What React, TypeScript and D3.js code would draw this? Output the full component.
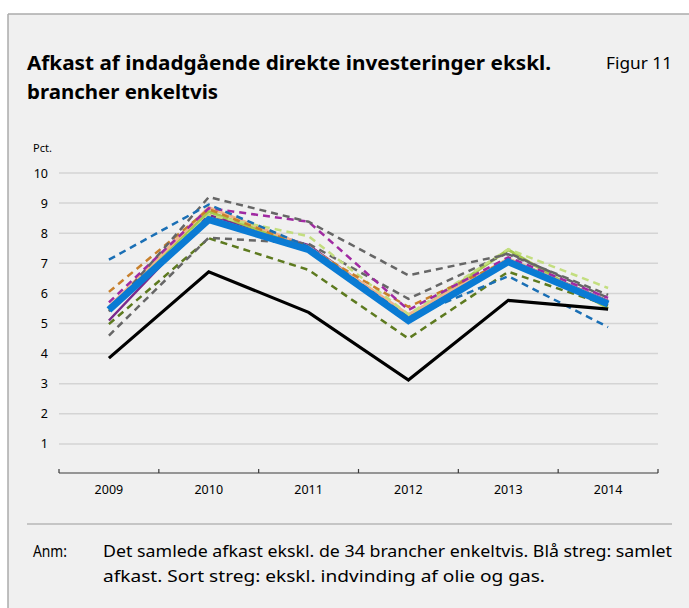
import React from "react";
import * as d3 from "d3";

const years = ["2009", "2010", "2011", "2012", "2013", "2014"];
const yTicks = [1, 2, 3, 4, 5, 6, 7, 8, 9, 10];

// Branch series (excluding one branch at a time)
const purpleSolid = [5.1, 8.6, 7.6, 5.25, 7.15, 5.75];
const greenSolid = [5.45, 8.72, 7.5, 5.2, 7.45, 5.5];
const peachSolid = [5.55, 8.85, 7.55, 5.3, 7.15, 5.72];
const oliveDash = [4.98, 7.83, 6.78, 4.5, 6.72, 5.6];
const grayDashB = [4.6, 7.85, 7.65, 5.82, 7.35, 5.85];
const lightGreenDash = [5.5, 8.6, 7.9, 5.3, 7.47, 6.18];
const orangeDash = [6.05, 8.8, 7.5, 5.55, 7.1, 5.7];
const purpleDash = [5.7, 8.83, 8.38, 5.45, 7.2, 5.85];
const grayDashA = [5.4, 9.2, 8.38, 6.6, 7.3, 5.95];
const blueDash = [7.12, 8.95, 7.55, 5.2, 6.57, 4.88];
// Total return (blue) and excl. oil and gas extraction (black)
const samlet = [5.45, 8.45, 7.45, 5.1, 7.05, 5.65];
const eksklOlie = [3.85, 6.72, 5.37, 3.12, 5.77, 5.48];

const series = [
  { values: purpleSolid, color: "#7b2a8c", width: 2.5, dash: null },
  { values: greenSolid, color: "#a6c94c", width: 3, dash: null },
  { values: peachSolid, color: "#f0b48c", width: 3, dash: null },
  { values: oliveDash, color: "#5d7a1f", width: 2.5, dash: "7,5" },
  { values: grayDashB, color: "#666666", width: 2.5, dash: "7,5" },
  { values: lightGreenDash, color: "#c3de7f", width: 2.5, dash: "7,5" },
  { values: orangeDash, color: "#c8802c", width: 2.5, dash: "7,5" },
  { values: purpleDash, color: "#a02aa2", width: 2.5, dash: "7,5" },
  { values: grayDashA, color: "#666666", width: 2.5, dash: "7,5" },
  { values: blueDash, color: "#1a6fb5", width: 2.5, dash: "7,5" },
  { values: samlet, color: "#0a7bd4", width: 7, dash: null },
  { values: eksklOlie, color: "#000000", width: 3.2, dash: null },
];

const W = 689;
const H = 608;
const FONT = "'Noto Sans', 'Open Sans', sans-serif";

export default function App() {
  const x = d3.scaleBand<string>().domain(years).range([59, 658]);
  const y = d3.scaleLinear().domain([0, 10]).range([474, 173]);
  const line = d3
    .line<number>()
    .x((_, i) => (x(years[i]) as number) + x.bandwidth() / 2)
    .y((d) => y(d));
  const boundaries = [...years.map((yr) => x(yr) as number), x.range()[1]];

  return (
    <div style={{ position: "absolute", left: 0, top: 0 }}>
      <svg width={W} height={H} style={{ display: "block" }}>
        <rect x={0} y={0} width={W} height={H} fill="#ffffff" />
        <rect x={8} y={14} width={W} height={H} fill="#f0f0f0" />
        <line x1={8} x2={W} y1={14} y2={14} stroke="#ababab" strokeWidth={1.5} />
        <line x1={8} x2={8} y1={14} y2={H} stroke="#ababab" strokeWidth={1.5} />

        <text x={27} y={70} fontFamily={FONT} fontWeight={700} fontSize={19.5} fill="#000"
          textLength={524} lengthAdjust="spacingAndGlyphs">
          Afkast af indadgående direkte investeringer ekskl.
        </text>
        <text x={27} y={99} fontFamily={FONT} fontWeight={700} fontSize={19.5} fill="#000"
          textLength={191} lengthAdjust="spacingAndGlyphs">
          brancher enkeltvis
        </text>
        <text x={606} y={69} fontFamily={FONT} fontSize={15.5} fill="#000"
          textLength={66} lengthAdjust="spacingAndGlyphs">
          Figur 11
        </text>

        <text x={33} y={152} fontFamily={FONT} fontSize={11} fill="#000">
          Pct.
        </text>

        {yTicks.map((t) => (
          <g key={t}>
            <line x1={59} x2={658} y1={y(t)} y2={y(t)} stroke="#d4d4d4" strokeWidth={1.5} />
            <text x={48} y={y(t) + 4.5} textAnchor="end" fontFamily={FONT} fontSize={12.5} fill="#000">
              {t}
            </text>
          </g>
        ))}

        <line x1={59} x2={658} y1={473} y2={473} stroke="#3a3a3a" strokeWidth={1.2} />
        {boundaries.map((bx, i) => (
          <line key={i} x1={bx} x2={bx} y1={469} y2={473} stroke="#3a3a3a" strokeWidth={1.2} />
        ))}
        {years.map((yr) => (
          <text
            key={yr}
            x={(x(yr) as number) + x.bandwidth() / 2}
            y={494}
            textAnchor="middle"
            fontFamily={FONT}
            fontSize={12.5}
            fill="#000"
          >
            {yr}
          </text>
        ))}

        {series.map((s, i) => (
          <path
            key={i}
            d={line(s.values) || ""}
            fill="none"
            stroke={s.color}
            strokeWidth={s.width}
            strokeDasharray={s.dash || undefined}
            strokeLinejoin="miter"
          />
        ))}

        <line x1={27} x2={672} y1={524} y2={524} stroke="#9a9a9a" strokeWidth={1.2} />
        <text x={33} y={557} fontFamily={FONT} fontSize={16} fill="#000"
          textLength={34} lengthAdjust="spacingAndGlyphs">
          Anm:
        </text>
        <text x={103} y={557} fontFamily={FONT} fontSize={16} fill="#000"
          textLength={569} lengthAdjust="spacingAndGlyphs">
          Det samlede afkast ekskl. de 34 brancher enkeltvis. Blå streg: samlet
        </text>
        <text x={103} y={582} fontFamily={FONT} fontSize={16} fill="#000"
          textLength={442} lengthAdjust="spacingAndGlyphs">
          afkast. Sort streg: ekskl. indvinding af olie og gas.
        </text>
      </svg>
    </div>
  );
}
